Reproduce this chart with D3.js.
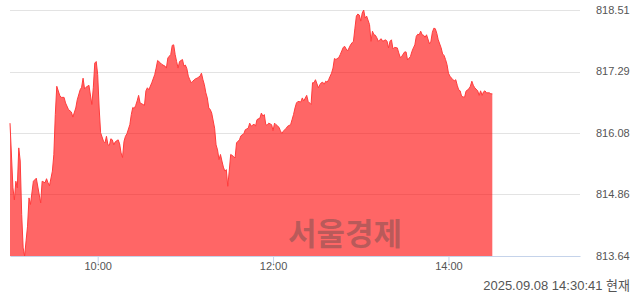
<!DOCTYPE html>
<html>
<head>
<meta charset="utf-8">
<script src="https://cdnjs.cloudflare.com/ajax/libs/d3/7.8.5/d3.min.js"></script>
<style>
  body { margin: 0; background: #fff; }
  svg { display: block; }
</style>
</head>
<body>
<svg id="chart" width="640" height="294"></svg>
<script>
/// data ///
const times = [
  "09:00","09:02","09:03","09:04","09:05","09:06","09:07","09:08","09:09","09:10","09:11","09:12","09:13","09:14","09:16","09:18",
  "09:21","09:22","09:24","09:25","09:26","09:27","09:29","09:30","09:31","09:32","09:34","09:35","09:37","09:38","09:40","09:42",
  "09:43","09:45","09:46","09:48","09:49","09:50","09:51","09:52","09:54","09:56","09:57","09:58","09:59","10:00","10:01","10:02",
  "10:04","10:05","10:06","10:07","10:08","10:09","10:10","10:11","10:12","10:14","10:15","10:16","10:17","10:18","10:19","10:20",
  "10:22","10:23","10:24","10:25","10:26","10:27","10:28","10:29","10:31","10:32","10:33","10:34","10:35","10:37","10:39","10:40",
  "10:41","10:43","10:44","10:46","10:47","10:48","10:50","10:51","10:52","10:53","10:54","10:55","10:56","10:58","10:59","11:00",
  "11:01","11:02","11:03","11:04","11:05","11:07","11:08","11:10","11:11","11:12","11:13","11:14","11:15","11:16","11:17","11:18",
  "11:20","11:21","11:22","11:23","11:24","11:25","11:26","11:27","11:28","11:29","11:30","11:31","11:33","11:34","11:35","11:37",
  "11:38","11:40","11:41","11:43","11:44","11:45","11:47","11:48","11:49","11:51","11:52","11:53","11:54","11:55","11:56","11:57",
  "11:59","12:00","12:01","12:02","12:04","12:05","12:06","12:07","12:09","12:10","12:12","12:13","12:14","12:15","12:16","12:17",
  "12:19","12:20","12:21","12:23","12:24","12:25","12:26","12:27","12:28","12:29","12:31","12:32","12:33","12:34","12:35","12:36",
  "12:37","12:38","12:40","12:41","12:42","12:43","12:45","12:46","12:47","12:48","12:49","12:50","12:51","12:53","12:54","12:55",
  "12:56","12:57","12:58","12:59","13:00","13:01","13:02","13:03","13:04","13:06","13:07","13:08","13:09","13:10","13:11","13:12",
  "13:13","13:14","13:15","13:17","13:18","13:19","13:20","13:21","13:22","13:23","13:25","13:26","13:27","13:28","13:30","13:31",
  "13:32","13:34","13:35","13:36","13:37","13:38","13:39","13:40","13:41","13:42","13:43","13:44","13:45","13:47","13:48","13:49",
  "13:50","13:51","13:52","13:53","13:55","13:56","13:57","13:58","13:59","14:00","14:01","14:03","14:04","14:05","14:06","14:07",
  "14:08","14:09","14:11","14:12","14:13","14:14","14:15","14:16","14:17","14:18","14:20","14:21","14:22","14:23","14:24","14:25",
  "14:26","14:28","14:29","14:30"
];
const prices = [
  816.27,814.99,814.75,815.12,814.99,815.78,815.52,814.46,813.80,813.64,813.94,814.23,814.79,814.66,815.12,815.18,
  814.69,815.12,815.09,815.17,815.09,815.03,815.32,815.65,816.44,817.00,816.82,816.78,816.78,816.67,816.54,816.49,
  816.39,816.57,816.73,816.93,816.98,817.16,816.95,816.98,817.02,816.64,816.97,817.46,817.49,817.23,816.57,816.08,
  815.91,815.88,816.01,815.84,815.83,815.96,815.94,815.84,815.90,815.94,815.86,815.68,815.59,815.91,816.01,816.06,
  816.24,816.44,816.58,816.56,816.62,816.71,816.82,816.67,816.64,816.62,816.91,816.97,816.93,817.07,817.23,817.36,
  817.51,817.46,817.43,817.40,817.36,817.56,817.63,817.81,817.82,817.63,817.49,817.36,817.49,817.53,817.40,817.42,
  817.35,817.20,817.13,817.07,817.10,817.15,817.16,817.20,817.26,817.13,817.03,816.87,816.77,816.57,816.54,816.47,
  816.17,815.84,815.74,815.55,815.65,815.52,815.40,815.32,815.35,815.02,815.32,815.65,815.61,815.58,815.88,815.94,
  816.02,816.06,816.14,816.17,816.27,816.21,816.25,816.21,816.34,816.37,816.47,816.41,816.44,816.24,816.23,816.27,
  816.24,816.12,816.27,816.24,816.19,816.12,816.06,816.11,816.17,816.21,816.24,816.34,816.44,816.57,816.67,816.70,
  816.69,816.77,816.71,816.82,816.70,816.67,816.64,817.07,817.07,817.13,816.97,817.03,817.07,817.08,817.04,817.10,
  817.08,817.13,817.26,817.36,817.55,817.53,817.57,817.63,817.70,817.77,817.79,817.74,817.70,817.82,817.86,817.89,
  818.15,818.39,818.43,818.41,818.29,818.45,818.51,818.35,818.39,818.22,817.89,818.09,818.02,818.01,817.96,817.89,
  817.92,817.94,817.89,817.92,817.89,817.76,817.89,817.92,817.74,817.77,817.76,817.66,817.57,817.59,817.68,817.68,
  817.52,817.59,817.69,817.76,817.82,817.99,818.03,818.02,818.09,818.02,818.01,817.97,818.02,817.84,817.89,818.07,
  818.15,818.14,818.05,817.92,817.76,817.64,817.61,817.53,817.43,817.26,817.20,817.13,817.11,817.13,817.02,816.93,
  816.91,816.80,816.78,816.90,816.93,816.95,817.00,817.10,817.02,816.97,816.91,816.82,816.91,816.82,816.89,816.91,
  816.87,816.87,816.85,816.85
];
const yTickValues = [813.64, 814.86, 816.08, 817.29, 818.51];
const xTickLabels = ["10:00", "12:00", "14:00"];
const sessionOpen = "09:00";
const sessionClose = "15:30";
const stampText = "2025.09.08 14:30:41 현재";
const watermarkText = "서울경제";

/// constants ///
const width = 640, height = 294;
const margin = {top: 10, right: 60, bottom: 38, left: 10};
const fillColour = "rgba(255, 0, 0, 0.6)";
const lineColour = "#ff3c3c";
const gridColour = "#e3e3e3";
const axisColour = "#c5d3ea";
const textColour = "#555";
const fontFamily = "'Liberation Sans', 'Noto Sans CJK KR', sans-serif";

const parseTime = d3.timeParse("%H:%M");
const data = times.map((t, i) => ({time: parseTime(t), price: prices[i]}));

const svg = d3.select("#chart");

/// scales ///
const xScale = d3.scaleTime()
  .domain([parseTime(sessionOpen), parseTime(sessionClose)])
  .range([margin.left, width - margin.right]);

const yScale = d3.scaleLinear()
  .domain([yTickValues[0], yTickValues[yTickValues.length - 1]])
  .range([height - margin.bottom, margin.top]);

/// grid ///
svg.append("g")
  .selectAll("line")
  .data(yTickValues.slice(1))
  .join("line")
    .attr("x1", margin.left)
    .attr("x2", width - margin.right)
    .attr("y1", d => Math.round(yScale(d)) + 0.5)
    .attr("y2", d => Math.round(yScale(d)) + 0.5)
    .attr("stroke", gridColour)
    .attr("stroke-width", 1);

/// area + line ///
const area = d3.area()
  .x(d => xScale(d.time))
  .y0(yScale(yTickValues[0]))
  .y1(d => yScale(d.price));

const line = d3.line()
  .x(d => xScale(d.time))
  .y(d => yScale(d.price));

svg.append("path")
  .datum(data)
  .attr("d", area)
  .attr("fill", fillColour);

svg.append("path")
  .datum(data)
  .attr("d", line)
  .attr("fill", "none")
  .attr("stroke", lineColour)
  .attr("stroke-width", 1)
  .attr("stroke-linejoin", "round");

/// watermark ///
svg.append("text")
  .attr("x", 345)
  .attr("y", 245)
  .attr("text-anchor", "middle")
  .attr("font-family", "'Noto Sans CJK KR', sans-serif")
  .attr("font-weight", "bold")
  .attr("font-size", 31)
  .attr("fill", "rgba(70, 70, 70, 0.38)")
  .text(watermarkText);

/// x axis ///
const xAxis = g => g
  .attr("transform", `translate(0, ${yScale(yTickValues[0])})`)
  .call(d3.axisBottom(xScale)
    .tickValues(xTickLabels.map(parseTime))
    .tickFormat(d3.timeFormat("%H:%M"))
    .tickSize(8)
    .tickSizeOuter(0))
  .call(g => g.select(".domain").attr("stroke", axisColour))
  .call(g => g.selectAll(".tick line").attr("stroke", axisColour))
  .call(g => g.selectAll("text")
    .attr("fill", textColour)
    .attr("font-size", 11)
    .attr("font-family", fontFamily)
    .attr("dy", "0.9em")
    .attr("y", 4));

svg.append("g").call(xAxis);

/// y labels ///
svg.append("g")
  .selectAll("text")
  .data(yTickValues)
  .join("text")
    .attr("x", 596)
    .attr("y", d => yScale(d))
    .attr("dy", "0.35em")
    .attr("fill", textColour)
    .attr("font-size", 11)
    .attr("font-family", fontFamily)
    .text(d => d.toFixed(2));

/// timestamp ///
svg.append("text")
  .attr("x", 630)
  .attr("y", 290)
  .attr("text-anchor", "end")
  .attr("fill", textColour)
  .attr("font-size", 13)
  .attr("font-family", fontFamily)
  .text(stampText);
</script>
</body>
</html>
